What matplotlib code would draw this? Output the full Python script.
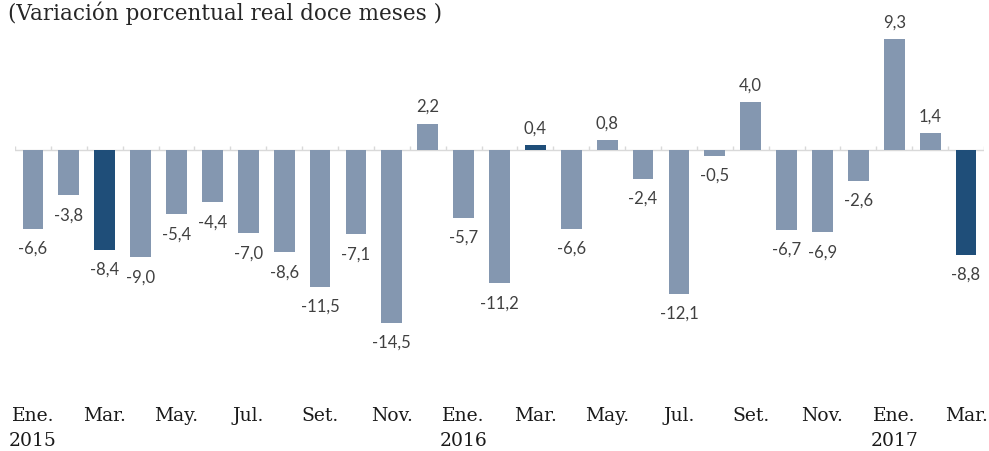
import numpy as np
import matplotlib
matplotlib.use('Agg')
import matplotlib.pyplot as plt

# datos: variacion porcentual real doce meses, ene 2015 - mar 2017
meses = ['Ene.', 'Feb.', 'Mar.', 'Abr.', 'May.', 'Jun.', 'Jul.', 'Ago.', 'Set.', 'Oct.', 'Nov.', 'Dic.',
         'Ene.', 'Feb.', 'Mar.', 'Abr.', 'May.', 'Jun.', 'Jul.', 'Ago.', 'Set.', 'Oct.', 'Nov.', 'Dic.',
         'Ene.', 'Feb.', 'Mar.']
anios = {0: '2015', 12: '2016', 24: '2017'}
valores = [-6.6, -3.8, -8.4, -9.0, -5.4, -4.4, -7.0, -8.6, -11.5, -7.1, -14.5, 2.2,
           -5.7, -11.2, 0.4, -6.6, 0.8, -2.4, -12.1, -0.5, 4.0, -6.7, -6.9, -2.6,
           9.3, 1.4, -8.8]
resaltados = [2, 14, 26]   # marzos

c_claro = '#8497B0'
c_oscuro = '#1F4E79'

fig = plt.figure(figsize=(9.89, 4.52), dpi=100)
ax = fig.add_axes([15 / 989, 57 / 452, 969 / 989, 375 / 452])

x = np.arange(len(valores))
colores = [c_oscuro if i in resaltados else c_claro for i in x]
ax.bar(x, valores, width=0.58, color=colores, zorder=2)

ax.set_xlim(-0.5, len(valores) - 0.5)
ax.set_ylim(-20.5, 11.0)

# eje en cero con marcas entre barras
ax.axhline(0, color='#D9D9D9', linewidth=1, zorder=1)
ax.vlines(np.arange(len(valores) + 1) - 0.5, 0, 0.3, color='#D9D9D9', linewidth=1, zorder=1)

# etiquetas de valores
for i, v in enumerate(valores):
    txt = ('%.1f' % v).replace('.', ',')
    if v >= 0:
        ax.annotate(txt, (i, v), xytext=(0, 7), textcoords='offset points',
                    ha='center', va='bottom', fontsize=12, color='#404040', family='Lato')
    else:
        ax.annotate(txt, (i, v), xytext=(0, -8), textcoords='offset points',
                    ha='center', va='top', fontsize=12, color='#404040', family='Lato')

# etiquetas del eje x cada dos meses
pos = x[::2]
etiq = [meses[i] + ('\n' + anios[i] if i in anios else '\n') for i in pos]
ax.set_xticks(pos)
ax.set_xticklabels(etiq, family='DejaVu Serif', fontsize=13.5, color='#1a1a1a', linespacing=1.45)
ax.tick_params(axis='x', length=0, pad=9)
ax.set_yticks([])
for s in ax.spines.values():
    s.set_visible(False)

fig.text(8 / 989, 1 - 13 / 452, '(Variación porcentual real doce meses )',
         family='DejaVu Serif', fontsize=15.5, color='#262626', va='center', ha='left')

fig.savefig('out.png', dpi=100)
